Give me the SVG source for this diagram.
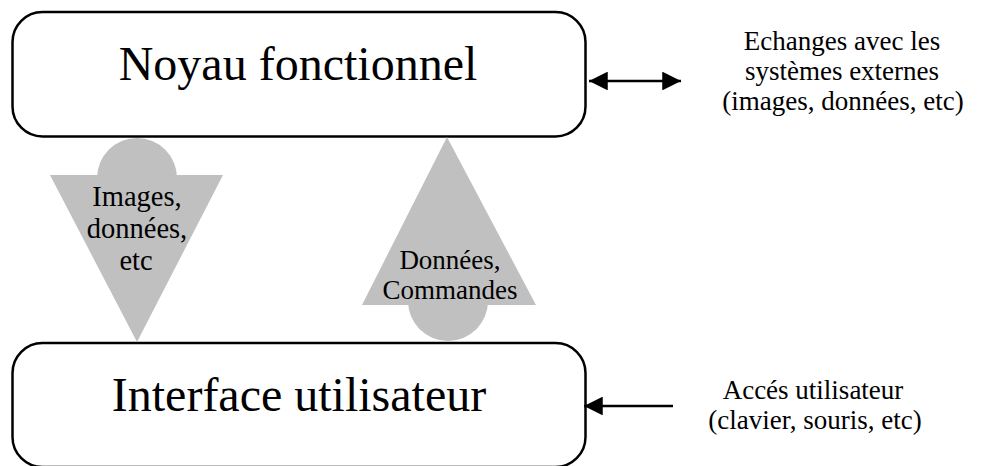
<svg xmlns="http://www.w3.org/2000/svg" width="983" height="466" viewBox="0 0 983 466">
<style>
.box{fill:#fff;stroke:#000;stroke-width:2.5}
.shape{fill:#c0c0c0;stroke:none}
.t{font-family:"Liberation Serif","Times New Roman",serif;fill:#000;text-anchor:middle}
.big{font-size:48px}
.mid{font-size:28.5px}
.mid2{font-size:27px}
.sm{font-size:27px}
.line{stroke:#000;stroke-width:2.5;fill:none}
</style>
<defs>
<marker id="ah" viewBox="0 0 10 10" refX="10" refY="5" markerWidth="7.5" markerHeight="7.5" markerUnits="strokeWidth" orient="auto-start-reverse">
<path d="M0,0 L10,5 L0,10 Z" fill="#000"/>
</marker>
</defs>
<g id="noyau">
<rect class="box" x="12.5" y="12" width="573" height="124.5" rx="30" ry="30"/>
<text class="t big" x="298" y="80">Noyau fonctionnel</text>
</g>
<g id="interface">
<rect class="box" x="12.5" y="343" width="573" height="124" rx="30" ry="30"/>
<text class="t big" x="299" y="411">Interface utilisateur</text>
</g>
<g id="flux-bas">
<circle class="shape" cx="137" cy="178" r="40"/>
<polygon class="shape" points="50,175 223,175 137,342"/>
<text class="t mid" x="137" y="206">Images,</text>
<text class="t mid" x="137" y="238">données,</text>
<text class="t mid" x="136" y="270">etc</text>
</g>
<g id="flux-haut">
<circle class="shape" cx="448" cy="301" r="40"/>
<polygon class="shape" points="447,137 362,305 536,305"/>
<text class="t mid2" x="450" y="269">Données,</text>
<text class="t mid2" x="450" y="299">Commandes</text>
</g>
<g id="echanges">
<text class="t sm" x="842" y="50">Echanges avec les</text>
<text class="t sm" x="842" y="80">systèmes externes</text>
<text class="t sm" x="843" y="110">(images, données, etc)</text>
</g>
<g id="acces">
<text class="t sm" x="813" y="399">Accés utilisateur</text>
<text class="t sm" x="815" y="429">(clavier, souris, etc)</text>
</g>
<g id="connectors">
<line class="line" x1="589" y1="81" x2="681" y2="81" marker-start="url(#ah)" marker-end="url(#ah)"/>
<line class="line" x1="673" y1="406" x2="584" y2="406" marker-end="url(#ah)"/>
</g>
</svg>
